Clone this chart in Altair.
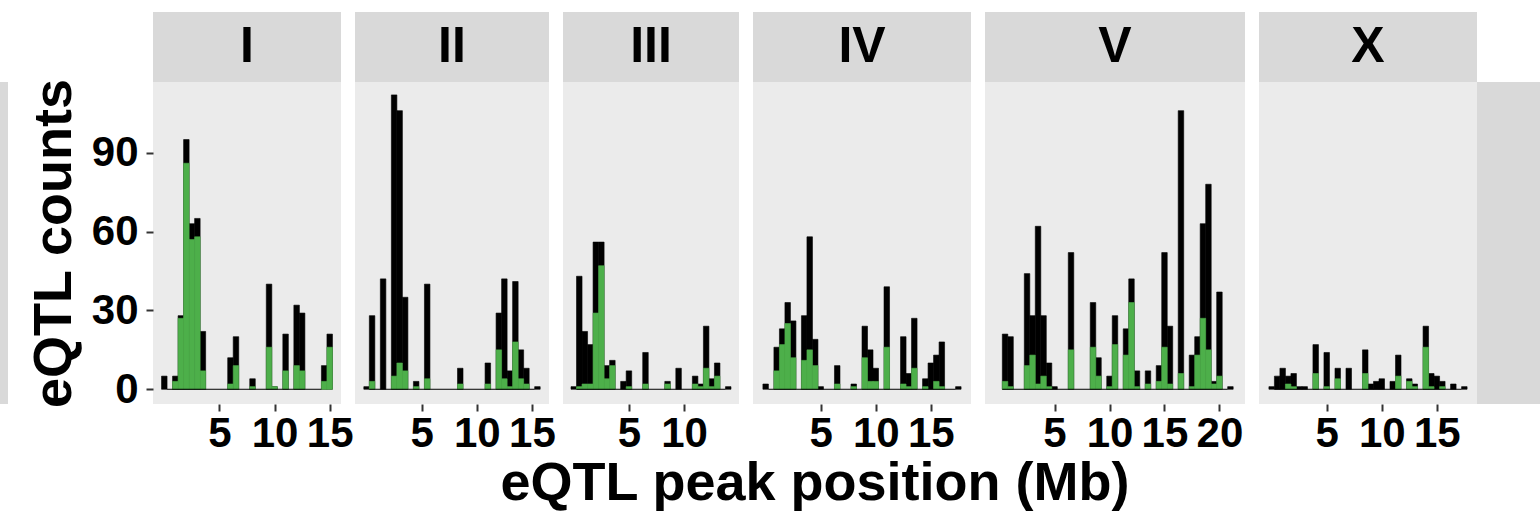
import altair as alt
import pandas as pd

FONT = "Liberation Sans"
GREEN = "#4DAF4A"
PANEL_BG = "#EBEBEB"
STRIP_BG = "#D9D9D9"
TICK_COLOR = "#333333"

# histogram binning (Mb)
BIN = 0.5
BIN_ORIGIN = -0.25

# per-chromosome panel settings
chromosomes = ["I", "II", "III", "IV", "V", "X"]
x_lo = [-1.025, -1.05, -0.975, -1.15, -1.325, -1.15]
x_hi = [16.025, 16.55, 14.975, 18.65, 22.325, 18.65]
panel_w = [188, 194, 176, 218, 260, 218]
x_ticks = [[5, 10, 15], [5, 10, 15], [5, 10], [5, 10, 15], [5, 10, 15, 20], [5, 10, 15]]
baseline_end = [14.25, 15.25, 13.75, 17.25, 20.75, 17.25]

Y_LO, Y_HI = -5.6, 116.9
y_ticks = [0, 30, 60, 90]

# bin index, count of all eQTL, count of the highlighted subset
bins_I = [0, 2, 3, 4, 5, 6, 7, 12, 13, 16, 19, 20, 22, 24, 25, 29, 30]
all_I = [5, 5, 28, 95, 63, 65, 22, 12, 20, 4, 40, 1, 21, 32, 29, 9, 21]
sub_I = [0, 3, 27, 86, 57, 58, 7, 2, 9, 1, 16, 1, 7, 9, 7, 3, 16]

bins_II = [0, 1, 3, 5, 6, 7, 9, 11, 17, 22, 24, 25, 26, 27, 28, 29, 31]
all_II = [1, 28, 42, 112, 106, 35, 3, 40, 8, 10, 29, 42, 7, 41, 15, 8, 1]
sub_II = [0, 3, 0, 5, 10, 7, 1, 4, 2, 2, 15, 4, 1, 18, 4, 2, 0]

bins_III = [0, 1, 2, 3, 4, 5, 6, 7, 9, 10, 13, 17, 19, 22, 23, 24, 25, 26, 28]
all_III = [1, 43, 22, 17, 56, 56, 9, 11, 3, 7, 14, 3, 8, 5, 2, 24, 4, 10, 1]
sub_III = [0, 1, 2, 2, 29, 47, 4, 9, 0, 1, 2, 2, 0, 2, 1, 8, 1, 5, 0]

bins_IV = [0, 2, 3, 4, 5, 7, 8, 9, 10, 13, 16, 18, 19, 20, 22, 25, 26, 27, 29, 30, 31, 32, 35]
all_IV = [2, 16, 23, 33, 26, 28, 58, 19, 1, 9, 2, 24, 15, 8, 39, 20, 6, 27, 4, 10, 13, 18, 1]
sub_IV = [0, 7, 17, 25, 12, 11, 15, 9, 0, 2, 1, 12, 3, 3, 16, 2, 1, 8, 1, 0, 3, 1, 0]

bins_V = [1, 2, 5, 6, 7, 8, 9, 10, 13, 17, 18, 20, 21, 23, 24, 25, 27, 29, 30, 31,
          33, 35, 36, 37, 38, 39, 40, 42]
all_V = [21, 20, 44, 28, 62, 28, 10, 1, 52, 33, 12, 5, 28, 23, 42, 7, 7, 9, 52, 24,
         106, 13, 20, 63, 78, 3, 37, 1]
sub_V = [3, 1, 9, 13, 2, 5, 1, 0, 15, 16, 5, 1, 17, 13, 33, 1, 2, 3, 16, 2,
         6, 1, 13, 27, 15, 2, 5, 0]

bins_X = [0, 1, 2, 3, 4, 5, 6, 8, 10, 12, 14, 17, 18, 19, 20, 22, 23, 25, 26, 28,
          29, 30, 31, 33, 35]
all_X = [1, 5, 8, 5, 6, 1, 1, 17, 14, 8, 8, 15, 2, 3, 4, 3, 13, 4, 2, 24,
         6, 5, 3, 2, 1]
sub_X = [0, 0, 0, 2, 1, 0, 0, 6, 1, 4, 0, 6, 0, 0, 0, 0, 5, 3, 1, 16,
         1, 0, 1, 0, 0]

bins = [bins_I, bins_II, bins_III, bins_IV, bins_V, bins_X]
counts_all = [all_I, all_II, all_III, all_IV, all_V, all_X]
counts_sub = [sub_I, sub_II, sub_III, sub_IV, sub_V, sub_X]

PANEL_H = 322
STRIP_H = 70
GAP = 14

# grey side bands flanking the panel row (pixel offsets from the first/last panel)
LEFT_BAND = (-153, -145)
RIGHT_BAND = (218, 281)


def side_band(x0, x1):
    return alt.Chart(pd.DataFrame({"v": [0]})).mark_rect(color=STRIP_BG).encode(
        x=alt.value(x0), x2=alt.value(x1), y=alt.value(0), y2=alt.value(PANEL_H)
    )


def plot_panel(i):
    df = pd.DataFrame({"k": bins[i], "all": counts_all[i], "sub": counts_sub[i]})
    df["start"] = BIN_ORIGIN + BIN * df["k"]
    df["end"] = df["start"] + BIN

    xscale = alt.Scale(domain=[x_lo[i], x_hi[i]], nice=False, zero=False)
    yscale = alt.Scale(domain=[Y_LO, Y_HI], nice=False, zero=False)
    xaxis = alt.Axis(
        values=x_ticks[i], title=None, grid=False, domain=False,
        tickColor=TICK_COLOR, tickSize=7, tickWidth=2,
        labelFont=FONT, labelFontSize=42, labelFontWeight="bold",
        labelColor="black", labelPadding=2, labelOverlap=False, labelFlush=False,
    )
    if i == 0:
        yaxis = alt.Axis(
            values=y_ticks, title="eQTL counts", grid=False, domain=False,
            tickColor=TICK_COLOR, tickSize=7, tickWidth=2,
            labelFont=FONT, labelFontSize=42, labelFontWeight="bold",
            labelColor="black", labelPadding=8, labelOverlap=False, labelFlush=False,
            titleFont=FONT, titleFontSize=54, titleFontWeight="bold",
            titleColor="black", titleX=-99, titleBaseline="middle",
        )
    else:
        yaxis = None

    base = alt.Chart(df)
    # a thin same-colour outline closes the hairline seams between adjacent bins
    black = base.mark_bar(color="black", stroke="black", strokeWidth=0.6).encode(
        x=alt.X("start:Q", scale=xscale, axis=xaxis),
        x2="end:Q",
        y=alt.Y("all:Q", scale=yscale, axis=yaxis),
        y2=alt.datum(0),
    )
    green = base.transform_filter("datum.sub > 0").mark_bar(
        color=GREEN, stroke=GREEN, strokeWidth=0.6
    ).encode(
        x=alt.X("start:Q", scale=xscale, axis=xaxis),
        x2="end:Q",
        y=alt.Y("sub:Q", scale=yscale, axis=yaxis),
        y2=alt.datum(0),
    )
    line_df = pd.DataFrame({"start": [0.25], "end": [baseline_end[i]], "all": [0]})
    baseline = alt.Chart(line_df).mark_rule(color="black", strokeWidth=1).encode(
        x=alt.X("start:Q", scale=xscale, axis=xaxis),
        x2="end:Q",
        y=alt.Y("all:Q", scale=yscale, axis=yaxis),
    )
    layers = [black, green, baseline]
    if i == 0:
        layers = [side_band(*LEFT_BAND)] + layers
    if i == len(chromosomes) - 1:
        layers = [side_band(*RIGHT_BAND)] + layers
    return alt.layer(*layers).properties(
        width=panel_w[i], height=PANEL_H,
        view=alt.ViewBackground(fill=PANEL_BG, strokeWidth=0),
    )


def strip_panel(i):
    return alt.Chart(pd.DataFrame({"chrom": [chromosomes[i]]})).mark_text(
        font=FONT, fontSize=50, fontWeight="bold", color="black",
        align="center", baseline="middle",
    ).encode(text="chrom:N").properties(
        width=panel_w[i], height=STRIP_H,
        view=alt.ViewBackground(fill=STRIP_BG, strokeWidth=0),
    )


n = len(chromosomes)
cells = [strip_panel(i) for i in range(n)] + [plot_panel(i) for i in range(n)]
chart = alt.concat(
    *cells, columns=n, spacing=alt.RowColnumber(row=0, column=GAP),
    bounds="flush", align="each",
).properties(
    title=alt.TitleParams(
        "eQTL peak position (Mb)", orient="bottom", anchor="middle",
        font=FONT, fontSize=54, fontWeight="bold", color="black", dx=45, offset=3,
    ),
    padding={"left": 0, "top": 12, "right": 0, "bottom": 0},
).configure_view(strokeWidth=0).configure(font=FONT)

chart.save("out.html", embed_options={"renderer": "svg", "actions": False})
